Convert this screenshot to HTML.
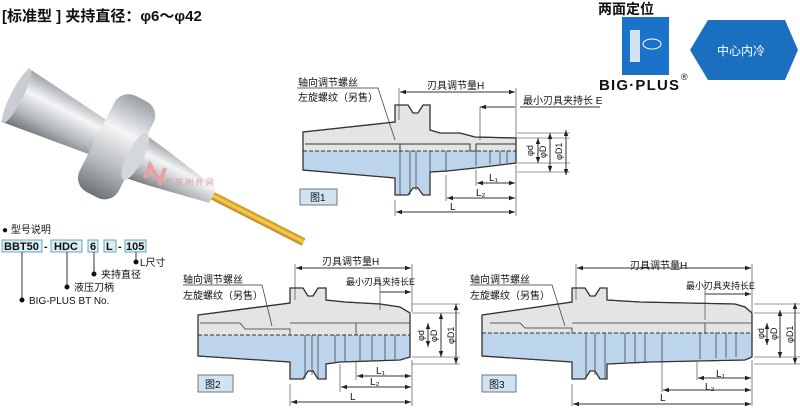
<!DOCTYPE html>
<html><head><meta charset="utf-8"><style>
body{margin:0;background:#fff;}
svg{display:block;font-family:"Liberation Sans","Noto Sans CJK SC",sans-serif;}
</style></head><body>
<svg width="800" height="409" viewBox="0 0 800 409" xmlns="http://www.w3.org/2000/svg">
<defs>
<marker id="a" viewBox="0 0 8 6" refX="8" refY="3" markerWidth="6" markerHeight="5" orient="auto-start-reverse"><path d="M0,0L8,3L0,6z" fill="#222"/></marker>
<linearGradient id="met" x1="0" y1="0" x2="0" y2="1"><stop offset="0" stop-color="#9aa0a6"/><stop offset=".35" stop-color="#f4f5f6"/><stop offset=".7" stop-color="#b5b9bd"/><stop offset="1" stop-color="#6d7277"/></linearGradient>
<linearGradient id="gold" x1="0" y1="0" x2="0" y2="1"><stop offset="0" stop-color="#c98a10"/><stop offset=".5" stop-color="#f7d35a"/><stop offset="1" stop-color="#b77a08"/></linearGradient>
<clipPath id="c1"><rect x="280" y="151" width="260" height="60"/></clipPath>
<clipPath id="c2"><rect x="190" y="335" width="240" height="60"/></clipPath>
<clipPath id="c3"><rect x="470" y="333" width="300" height="60"/></clipPath>
</defs>

<text x="2" y="21" font-size="15" font-weight="bold" fill="#111">[标准型 ]  夹持直径：φ6～φ42</text>

<!-- photo -->
<g transform="translate(15 95) rotate(27)">
<rect x="222" y="-4" width="102" height="8" fill="url(#gold)"/>
<polygon points="0,-30 95,-19 95,19 0,30" fill="url(#met)"/>
<ellipse cx="2" cy="0" rx="6" ry="30" fill="#c9cdd1"/>
<rect x="92" y="-54" width="44" height="108" rx="16" fill="url(#met)"/>
<polygon points="134,-24 160,-20 222,-8 222,8 160,20 134,24" fill="url(#met)"/>
<ellipse cx="135" cy="0" rx="8" ry="26" fill="#d5d8db"/>
</g>
<text x="165" y="185" font-size="8" fill="#d9a0a0">机 床 附 件 网</text>
<path d="M145 178 L150 165 L160 182 L165 168" stroke="#e8a0a0" stroke-width="4" fill="none"/>

<!-- model code -->
<text x="2" y="233" font-size="10" fill="#111">● 型号说明</text>
<g font-size="11" font-weight="bold" fill="#111">
<rect x="2" y="240" width="40" height="12" fill="#dbeef6" stroke="#6aa"/><text x="4" y="250">BBT50</text>
<text x="44" y="250">-</text>
<rect x="51" y="240" width="31" height="12" fill="#dbeef6" stroke="#6aa"/><text x="54" y="250">HDC</text>
<rect x="88" y="240" width="10" height="12" fill="#dbeef6" stroke="#6aa"/><text x="90" y="250">6</text>
<rect x="104" y="240" width="12" height="12" fill="#dbeef6" stroke="#6aa"/><text x="106" y="250">L</text>
<text x="118" y="250">-</text>
<rect x="125" y="240" width="21" height="12" fill="#dbeef6" stroke="#6aa"/><text x="126" y="250">105</text>
</g>
<g stroke="#333" fill="none"><path d="M22 252V300M67 252V287M94 252V274M136 252V262"/></g>
<g fill="#111"><circle cx="22" cy="300" r="2.5"/><circle cx="67" cy="287" r="2.5"/><circle cx="94" cy="274" r="2.5"/><circle cx="136" cy="262" r="2.5"/></g>
<g font-size="10" fill="#111"><text x="29" y="304">BIG-PLUS BT No.</text><text x="74" y="291">液压刀柄</text><text x="101" y="278">夹持直径</text><text x="140" y="266">L尺寸</text></g>

<!-- logo -->
<text x="598" y="14" font-size="14" font-weight="bold" fill="#111">两面定位</text>
<rect x="622" y="17" width="47" height="58" fill="#1a73c8"/>
<rect x="630" y="30" width="10" height="32" fill="#fff" opacity=".8"/>
<ellipse cx="652" cy="44" rx="9" ry="5" fill="none" stroke="#fff"/>
<text x="599" y="90" font-size="15" font-weight="bold" fill="#111" textLength="80">BIG·PLUS</text>
<text x="681" y="80" font-size="9" fill="#111">®</text>
<polygon points="708,20 785,20 798,50 785,80 708,80 690,50" fill="#1a6fc0"/>
<text x="717" y="55" font-size="12" fill="#fff">中心内冷</text>

<g stroke="#333" stroke-width="1" font-size="10" fill="#111">
<!-- FIG1 -->
<g>
<polygon points="303,132 395,122 395,105 408,105 413,113 418,113 423,105 430,105 430,130 440,133 460,133 475,137 516,138 516,163 475,168 447,171 430,172 430,195 423,195 418,188 413,188 408,195 395,195 395,178 303,170" fill="#e4e4e4"/>
<polygon clip-path="url(#c1)" points="303,132 395,122 395,105 408,105 413,113 418,113 423,105 430,105 430,130 440,133 460,133 475,137 516,138 516,163 475,168 447,171 430,172 430,195 423,195 418,188 413,188 408,195 395,195 395,178 303,170" fill="#bcd4ec" stroke="none"/>
<polygon points="303,132 395,122 395,105 408,105 413,113 418,113 423,105 430,105 430,130 440,133 460,133 475,137 516,138 516,163 475,168 447,171 430,172 430,195 423,195 418,188 413,188 408,195 395,195 395,178 303,170" fill="none" stroke-width="1.3"/>
<path d="M305 144H400V151M400 144H470V151H476V144H516" fill="none"/>
<path d="M303 151H516" stroke-dasharray="4 2"/>
<path d="M400 151V195M410 151V195M416 151V190M430 151V172M446 151V172M476 151V166M490 151V164M500 151V164M507 151V163" stroke-width=".7"/>
</g>
<path d="M399 88V120M516 88V140M395 200V216M446 175V201M476 170V186M480 107V140M516 165V216" stroke-width=".6"/>
<path d="M400 92H515" marker-start="url(#a)" marker-end="url(#a)"/>
<path d="M480 107H515M520 107H600" marker-start="url(#a)"/>
<path d="M477 183H515" marker-start="url(#a)" marker-end="url(#a)"/>
<path d="M447 198H515" marker-start="url(#a)" marker-end="url(#a)"/>
<path d="M396 212H515" marker-start="url(#a)" marker-end="url(#a)"/>
<path d="M517 138H570M517 163H570M517 172H570M517 133H570" stroke-width=".5"/>
<path d="M538 138V163" marker-start="url(#a)" marker-end="url(#a)"/>
<path d="M550 133V172" marker-start="url(#a)" marker-end="url(#a)"/>
<path d="M566 130V175" marker-start="url(#a)" marker-end="url(#a)"/>
<path d="M297 88H378L395 140" fill="none" stroke-width=".7"/>
<g stroke="none"><text x="427" y="89">刃具调节量H</text><text x="523" y="104">最小刃具夹持长 E</text><text x="489" y="181">L₁</text><text x="476" y="196">L₂</text><text x="450" y="210">L</text>
<text x="298" y="86">轴向调节螺丝</text><text x="298" y="101">左旋螺纹（另售）</text>
<text transform="translate(533 156) rotate(-90)" font-size="9">φd</text><text transform="translate(546 158) rotate(-90)" font-size="9">φD</text><text transform="translate(562 160) rotate(-90)" font-size="9">φD1</text></g>
<rect x="300" y="189" width="37" height="16" fill="#cfe3f2" stroke="#777"/><text x="310" y="201" stroke="none">图1</text>

<!-- FIG2 -->
<polygon points="198,315 290,303 290,288 303,288 308,296 313,296 318,288 326,288 326,300 345,302 380,304 400,307 410,313 410,357 400,360 340,362 326,364 326,379 318,379 313,371 308,371 303,379 290,379 290,362 198,356" fill="#e4e4e4"/>
<polygon clip-path="url(#c2)" points="198,315 290,303 290,288 303,288 308,296 313,296 318,288 326,288 326,300 345,302 380,304 400,307 410,313 410,357 400,360 340,362 326,364 326,379 318,379 313,371 308,371 303,379 290,379 290,362 198,356" fill="#bcd4ec" stroke="none"/>
<polygon points="198,315 290,303 290,288 303,288 308,296 313,296 318,288 326,288 326,300 345,302 380,304 400,307 410,313 410,357 400,360 340,362 326,364 326,379 318,379 313,371 308,371 303,379 290,379 290,362 198,356" fill="none" stroke-width="1.3"/>
<path d="M200 323H240L245 329H290V335M290 323H356V335M356 323H410" fill="none" stroke-width=".8"/>
<path d="M198 335H410" stroke-dasharray="4 2"/>
<path d="M305 335V379M312 335V375M318 335V379M335 335V362M345 335V362M360 335V362M372 335V361M385 335V360M395 335V359" stroke-width=".7"/>
<path d="M295 264V300M412 264V312M290 384V406M340 364V392M356 362V380M380 280V310M412 360V406" stroke-width=".6"/>
<path d="M296 268H411" marker-start="url(#a)" marker-end="url(#a)"/>
<path d="M380 292H411" marker-end="url(#a)"/>
<path d="M357 376H411" marker-start="url(#a)" marker-end="url(#a)"/>
<path d="M341 387H411" marker-start="url(#a)" marker-end="url(#a)"/>
<path d="M291 402H411" marker-start="url(#a)" marker-end="url(#a)"/>
<path d="M412 313H460M412 357H460M412 304H460M412 364H460" stroke-width=".5"/>
<path d="M428 323V347" marker-start="url(#a)" marker-end="url(#a)"/>
<path d="M441 313V357" marker-start="url(#a)" marker-end="url(#a)"/>
<path d="M456 304V364" marker-start="url(#a)" marker-end="url(#a)"/>
<path d="M183 285H262L272 326" fill="none" stroke-width=".7"/>
<g stroke="none"><text x="322" y="265">刃具调节量H</text><text x="346" y="285" font-size="9">最小刃具夹持长E</text><text x="376" y="374">L₁</text><text x="370" y="385">L₂</text><text x="350" y="400">L</text>
<text x="183" y="283">轴向调节螺丝</text><text x="183" y="299">左旋螺纹（另售）</text>
<text transform="translate(424 341) rotate(-90)" font-size="9">φd</text><text transform="translate(437 342) rotate(-90)" font-size="9">φD</text><text transform="translate(454 344) rotate(-90)" font-size="9">φD1</text></g>
<rect x="198" y="375" width="35" height="17" fill="#cfe3f2" stroke="#777"/><text x="205" y="388" stroke="none">图2</text>

<!-- FIG3 -->
<polygon points="482,315 572,302 572,288 585,288 590,296 595,296 600,288 607,288 607,300 640,302 735,304 745,307 752,313 752,357 745,360 650,362 607,364 607,379 600,379 595,371 590,371 585,379 572,379 572,362 482,356" fill="#e4e4e4"/>
<polygon clip-path="url(#c3)" points="482,315 572,302 572,288 585,288 590,296 595,296 600,288 607,288 607,300 640,302 735,304 745,307 752,313 752,357 745,360 650,362 607,364 607,379 600,379 595,371 590,371 585,379 572,379 572,362 482,356" fill="#bcd4ec" stroke="none"/>
<polygon points="482,315 572,302 572,288 585,288 590,296 595,296 600,288 607,288 607,300 640,302 735,304 745,307 752,313 752,357 745,360 650,362 607,364 607,379 600,379 595,371 590,371 585,379 572,379 572,362 482,356" fill="none" stroke-width="1.3"/>
<path d="M490 323H520L525 328H572V333M572 323H705V333M705 323H752" fill="none" stroke-width=".8"/>
<path d="M482 333H752" stroke-dasharray="4 2"/>
<path d="M586 333V379M595 333V375M605 333V379M625 333V362M635 333V362M645 333V362M662 333V361M700 333V359M716 333V358M726 333V358M736 333V357" stroke-width=".7"/>
<path d="M576 264V300M752 264V312M572 384V406M662 362V392M697 362V380M705 280V320M752 360V406" stroke-width=".6"/>
<path d="M577 268H751" marker-start="url(#a)" marker-end="url(#a)"/>
<path d="M705 294H751" marker-end="url(#a)"/>
<path d="M698 378H751" marker-start="url(#a)" marker-end="url(#a)"/>
<path d="M663 390H751" marker-start="url(#a)" marker-end="url(#a)"/>
<path d="M573 404H751" marker-start="url(#a)" marker-end="url(#a)"/>
<path d="M754 313H800M754 357H800M754 304H800M754 364H800" stroke-width=".5"/>
<path d="M767 323V345" marker-start="url(#a)" marker-end="url(#a)"/>
<path d="M780 310V358" marker-start="url(#a)" marker-end="url(#a)"/>
<path d="M795 303V364" marker-start="url(#a)" marker-end="url(#a)"/>
<path d="M470 285H552L565 326" fill="none" stroke-width=".7"/>
<g stroke="none"><text x="630" y="269">刃具调节量H</text><text x="686" y="289" font-size="9">最小刃具夹持长E</text><text x="716" y="377">L₁</text><text x="705" y="390">L₂</text><text x="660" y="401">L</text>
<text x="470" y="283">轴向调节螺丝</text><text x="470" y="299">左旋螺纹（另售）</text>
<text transform="translate(764 339) rotate(-90)" font-size="9">φd</text><text transform="translate(777 340) rotate(-90)" font-size="9">φD</text><text transform="translate(793 343) rotate(-90)" font-size="9">φD1</text></g>
<rect x="482" y="375" width="34" height="17" fill="#cfe3f2" stroke="#777"/><text x="489" y="388" stroke="none">图3</text>
</g>
</svg>
</body></html>
